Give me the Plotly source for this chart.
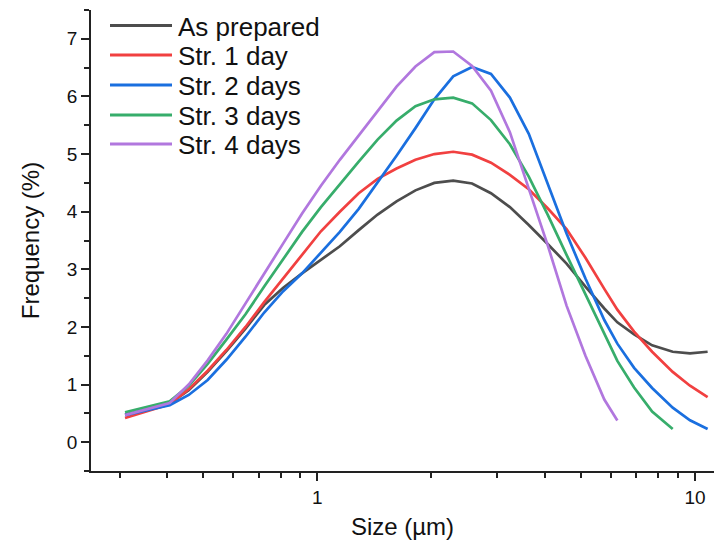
import plotly.graph_objects as go

# Particle size bins (µm)
size_um = [0.31, 0.407, 0.457, 0.513, 0.575, 0.646, 0.724, 0.813, 0.912, 1.023,
           1.148, 1.288, 1.445, 1.622, 1.820, 2.042, 2.291, 2.570, 2.884, 3.236,
           3.631, 4.074, 4.571, 5.129, 5.754, 6.23, 6.9, 7.7, 8.73, 9.7, 10.8]

# Frequency (%) for each sample
as_prepared = [0.48, 0.67, 0.90, 1.22, 1.58, 1.97, 2.38, 2.68, 2.93, 3.16,
               3.40, 3.68, 3.95, 4.18, 4.37, 4.50, 4.54, 4.49, 4.32, 4.08,
               3.77, 3.44, 3.10, 2.70, 2.32, 2.08, 1.87, 1.68, 1.57, 1.54, 1.57]
str_1_day = [0.42, 0.66, 0.92, 1.24, 1.60, 2.00, 2.43, 2.84, 3.25, 3.66,
             4.00, 4.32, 4.57, 4.75, 4.90, 5.00, 5.04, 4.99, 4.85, 4.64,
             4.39, 4.06, 3.70, 3.20, 2.66, 2.30, 1.92, 1.57, 1.22, 0.98, 0.78]
str_2_days = [0.47, 0.64, 0.82, 1.08, 1.43, 1.83, 2.25, 2.62, 2.93, 3.28,
              3.65, 4.05, 4.50, 4.97, 5.45, 5.95, 6.35, 6.51, 6.39, 5.98,
              5.35, 4.50, 3.62, 2.84, 2.12, 1.71, 1.29, 0.94, 0.60, 0.38, 0.23]
str_3_days = [0.52, 0.71, 0.98, 1.36, 1.78, 2.22, 2.70, 3.18, 3.65, 4.08,
              4.48, 4.87, 5.25, 5.58, 5.83, 5.95, 5.98, 5.88, 5.59, 5.17,
              4.61, 3.95, 3.25, 2.56, 1.86, 1.41, 0.95, 0.53, 0.23]
str_4_days = [0.47, 0.68, 1.00, 1.42, 1.88, 2.40, 2.93, 3.45, 3.97, 4.45,
              4.90, 5.33, 5.75, 6.17, 6.52, 6.77, 6.78, 6.53, 6.10, 5.38,
              4.40, 3.42, 2.37, 1.50, 0.74, 0.375]

series_names = ["As prepared", "Str. 1 day", "Str. 2 days", "Str. 3 days", "Str. 4 days"]
series_values = [as_prepared, str_1_day, str_2_days, str_3_days, str_4_days]
series_colors = ["#4d4d4d", "#f14040", "#1a6fdf", "#37ad6b", "#b177de"]

x_major_ticks = [1, 10]
x_minor_ticks = [0.3, 0.4, 0.5, 0.6, 0.7, 0.8, 0.9, 2, 3, 4, 5, 6, 7, 8, 9]

FONT = "Liberation Sans, Arial, sans-serif"

fig = go.Figure()
for name, vals, color in zip(series_names, series_values, series_colors):
    fig.add_trace(go.Scatter(
        x=size_um[:len(vals)], y=vals, name=name, mode="lines",
        line=dict(color=color, width=2.7), showlegend=False,
    ))

# Legend drawn as line samples plus text labels in the upper left
W, H = 716, 544
L, R, T, B = 91, 2, 10, 73
pw, ph = W - L - R, H - T - B


def px_x(px):
    return (px - L) / pw


def px_y(py):
    return (H - B - py) / ph


row_y = [25.5, 55, 85, 115, 144]
for name, color, py in zip(series_names, series_colors, row_y):
    fig.add_shape(type="line", xref="paper", yref="paper",
                  x0=px_x(110), x1=px_x(172), y0=px_y(py), y1=px_y(py),
                  line=dict(color=color, width=2.8))
    fig.add_annotation(xref="paper", yref="paper", x=px_x(176), y=px_y(py + 1),
                       text=name, showarrow=False, xanchor="left", yanchor="middle",
                       font=dict(family=FONT, size=26, color="#111111"))

axis_common = dict(
    showline=True, linecolor="#222222", linewidth=1.5, mirror=False,
    showgrid=False, zeroline=False, ticks="outside", tickcolor="#222222",
    tickwidth=1.5, ticklen=8,
    tickfont=dict(family=FONT, size=19, color="#111111"),
)

fig.update_layout(
    width=W, height=H,
    margin=dict(l=L, r=R, t=T, b=B),
    paper_bgcolor="white", plot_bgcolor="white",
    xaxis=dict(
        type="log", range=[-0.5987, 1.0503],
        tickmode="array", tickvals=x_major_ticks, ticktext=["1", "10"],
        minor=dict(tickmode="array", tickvals=x_minor_ticks, ticks="outside",
                   ticklen=5, tickwidth=1.5, tickcolor="#222222", showgrid=False),
        title=dict(text="Size (µm)", standoff=12,
                   font=dict(family=FONT, size=24, color="#111111")),
        **axis_common,
    ),
    yaxis=dict(
        range=[-0.5, 7.5], tickmode="linear", tick0=0, dtick=1,
        minor=dict(dtick=0.5, tick0=0, ticks="outside", ticklen=5, tickwidth=1.5,
                   tickcolor="#222222", showgrid=False),
        title=dict(text="Frequency (%)", standoff=20,
                   font=dict(family=FONT, size=24, color="#111111")),
        **axis_common,
    ),
)

fig.write_html("out.html")
